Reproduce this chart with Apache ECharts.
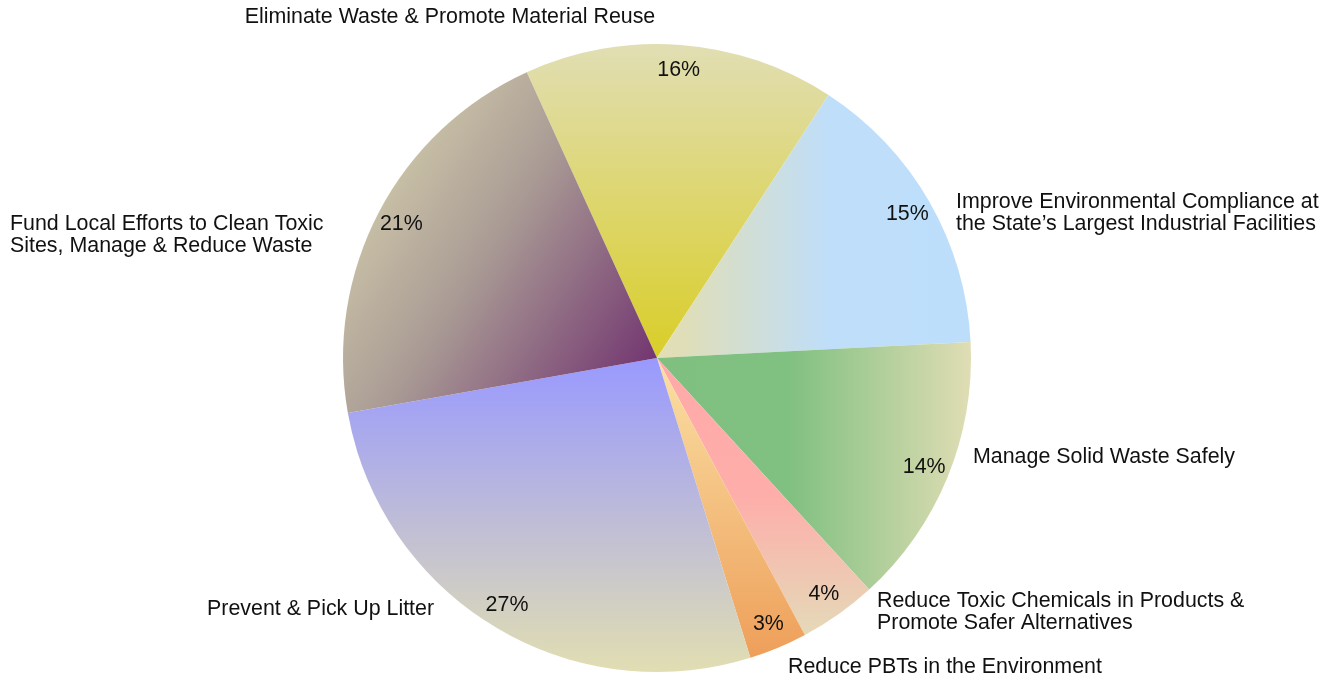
<!DOCTYPE html>
<html>
<head>
<meta charset="utf-8">
<title>Program spending</title>
<script src="https://cdn.jsdelivr.net/npm/echarts@6/dist/echarts.min.js"></script>
<style>
  html, body { margin: 0; padding: 0; background: #fff; }
  #chart { width: 1335px; height: 681px; }
</style>
</head>
<body>
<div id="chart"></div>
<script>
// slices, clockwise from the top
var categories = [
  'Eliminate Waste & Promote Material Reuse',
  'Improve Environmental Compliance at\nthe State\u2019s Largest Industrial Facilities',
  'Manage Solid Waste Safely',
  'Reduce Toxic Chemicals in Products &\nPromote Safer Alternatives',
  'Reduce PBTs in the Environment',
  'Prevent & Pick Up Litter',
  'Fund Local Efforts to Clean Toxic\nSites, Manage & Reduce Waste'
];
var shares = [16, 15, 14, 4, 3, 27, 21];

// gradient fill of each slice (Excel style)
function lin(x, y, x2, y2, stops) {
  return {
    type: 'linear', x: x, y: y, x2: x2, y2: y2,
    colorStops: stops.map(function (s) { return { offset: s[0], color: s[1] }; })
  };
}
var fills = [
  lin(0, 1, 0, 0, [[0, '#d9ce28'], [1, '#e1deb4']]),
  lin(0, 0, 1, 0, [[0, '#e2dfb6'], [0.08, '#e0deb8'], [0.55, '#bfdefa'], [1, '#bddefb']]),
  lin(0, 0, 1, 0, [[0, '#7fbf7f'], [0.42, '#80c080'], [1, '#e0ddb4']]),
  lin(0, 0, 0, 1, [[0, '#ffa9a9'], [0.5, '#feaeaa'], [1, '#e4dab8']]),
  lin(0, 0, 0, 1, [[0, '#fae0a4'], [1, '#ee9f5a']]),
  lin(0, 0, 0, 1, [[0, '#9999ff'], [1, '#e1deb2']]),
  lin(1, 0.85, 0, 0.25, [[0, '#723570'], [0.55, '#aa9c95'], [1, '#d6d0ae']])
];

// where the category names sit (x, y, align)
var namePos = [
  [450, 17, 'center'],
  [956, 213, 'left'],
  [973, 457, 'left'],
  [877, 612, 'left'],
  [788, 667, 'left'],
  [207, 609, 'left'],
  [10, 235, 'left']
];

var pieCenter = [657, 358];
var pieR = 314;
var font = '"Liberation Sans", Arial, sans-serif';

var chart = echarts.init(document.getElementById('chart'));

var slices = categories.map(function (c, i) {
  return { name: c, value: shares[i], itemStyle: { color: fills[i] } };
});

chart.setOption({
  animation: false,
  series: [
    {
      type: 'pie',
      center: pieCenter,
      radius: pieR,
      startAngle: 114.5,
      clockwise: true,
      avoidLabelOverlap: false,
      itemStyle: { borderWidth: 0 },
      label: {
        show: true,
        position: 'outside',
        color: '#111',
        fontSize: 21.4,
        lineHeight: 22,
        fontFamily: font
      },
      labelLine: { show: false },
      labelLayout: function (p) {
        var pos = namePos[p.dataIndex];
        return { x: pos[0], y: pos[1], align: pos[2], verticalAlign: 'middle' };
      },
      data: slices
    },
    {
      // transparent ring that only carries the percentage labels
      type: 'pie',
      silent: true,
      center: pieCenter,
      radius: [pieR * 0.82, pieR],
      startAngle: 114.5,
      clockwise: true,
      itemStyle: { color: 'rgba(0,0,0,0)', borderWidth: 0 },
      label: {
        show: true,
        position: 'inside',
        formatter: '{c}%',
        color: '#111',
        fontSize: 21.4,
        fontFamily: font
      },
      labelLine: { show: false },
      data: categories.map(function (c, i) { return { name: c, value: shares[i] }; })
    }
  ]
});
</script>
</body>
</html>
